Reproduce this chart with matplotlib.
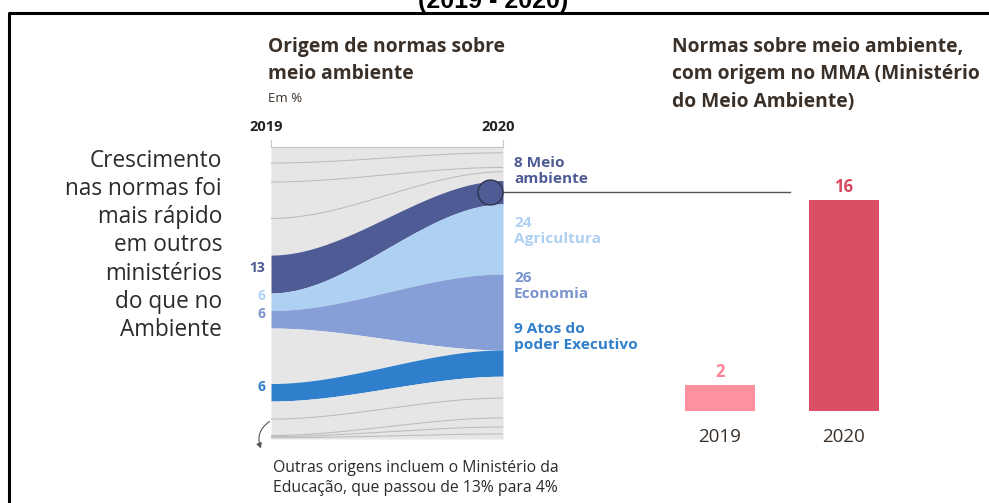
import numpy as np
import matplotlib.pyplot as plt
from matplotlib.lines import Line2D
from matplotlib.patches import FancyArrowPatch
from matplotlib.transforms import offset_copy

W, H = 989, 503

# stream chart: shares (%) of each origin, stacked from the top
years = [2019, 2020]
meio = [13, 8]
agri = [6, 24]
econ = [6, 26]
atos = [6, 9]
outros_topo = [[5.5, 2], [6.5, 5], [12.5, 1.5], [12.5, 3]]
outros_meio = [19, 0]
outros_base = [[6.2, 7.5], [5.6, 6.8], [0.4, 3.1], [0.4, 2.4], [0.4, 1.7]]

# bar chart: MMA norms
bar_years = ["2019", "2020"]
bar_vals = [2, 16]

C_MEIO = "#4e5b94"
C_AGRI = "#aed0f2"
C_ECON = "#869fd6"
C_ATOS = "#2f7fcc"
C_GRAY = "#e6e6e6"
C_LINE = "#bdbdbd"
C_TITLE = "#3a3028"
BODY = ["Open Sans", "DejaVu Sans"]


def fx(px):
    return px / W


def fy(py):
    return 1 - py / H


fig = plt.figure(figsize=(W / 100, H / 100), dpi=100)

# frame and header
fig.add_artist(Line2D([fx(8.5), fx(8.5), fx(W)], [0, fy(13), fy(13)],
                      color="black", lw=2.2))
fig.text(fx(493), fy(8), "(2019 - 2020)", ha="center", va="baseline",
         fontsize=18, fontweight="bold", family="Liberation Sans")

# ---- stream chart ----
ax = fig.add_axes([fx(271), fy(439), fx(503) - fx(271), fy(147) - fy(439)])
t = np.linspace(0, 1, 300)
s = 3 * t**2 - 2 * t**3
x = years[0] + (years[1] - years[0]) * t

bands = ([(v, C_GRAY) for v in outros_topo] + [(meio, C_MEIO), (agri, C_AGRI),
         (econ, C_ECON), (outros_meio, C_GRAY), (atos, C_ATOS)]
         + [(v, C_GRAY) for v in outros_base])

top = np.zeros_like(t)
edges = []
for vals, col in bands:
    h = vals[0] + (vals[1] - vals[0]) * s
    ax.fill_between(x, top, top + h, color=col, lw=0)
    edges.append((top.copy(), col))
    top = top + h

# thin separators inside the grey "other origins"
prev = None
for (edge, col) in edges:
    if col == C_GRAY and prev == C_GRAY:
        ax.plot(x, edge, color=C_LINE, lw=0.8)
    prev = col

ax.set_xlim(years[0], years[1])
ax.set_ylim(top[-1], 0)
ax.axis("off")

cum_topo = [sum(v[i] for v in outros_topo) for i in range(2)]
meio_mid = [cum_topo[i] + meio[i] / 2 for i in range(2)]

# circle marking the environment ministry in 2020, with leader to the bars
circ_tr = offset_copy(ax.transData, fig=fig, x=-9.5, y=0, units="points")
ax.plot([years[1]], [meio_mid[1]], "o", ms=18, color=C_MEIO, mec="#2a2f45",
        mew=0.9, transform=circ_tr, clip_on=False, zorder=5)
ax.plot([years[1], years[1] + 287 / 232], [meio_mid[1]] * 2, color="#555555",
        lw=1, clip_on=False, zorder=4)

# left values (2019)
left_labels = [(meio, cum_topo[0] + meio[0] / 2, C_MEIO),
               (agri, cum_topo[0] + meio[0] + agri[0] / 2, C_AGRI),
               (econ, cum_topo[0] + meio[0] + agri[0] + econ[0] / 2, "#7a93cc"),
               (atos, cum_topo[0] + meio[0] + agri[0] + econ[0] + outros_meio[0] + atos[0] / 2, C_ATOS)]
lab_tr = offset_copy(ax.transData, fig=fig, x=-4, y=4, units="points")
for vals, yc, col in left_labels:
    ax.text(years[0], yc, f"{vals[0]}", ha="right", va="center", color=col,
            fontsize=10, fontweight="bold", family=BODY, transform=lab_tr)

# bracket above the stream
fig.add_artist(Line2D([fx(271), fx(271), fx(503), fx(503)],
                      [fy(140), fy(147), fy(147), fy(140)], color="#c8c8c8", lw=0.9))

# right labels (2020)
right_labels = [(f"{meio[1]} Meio\nambiente", 171, C_MEIO),
                (f"{agri[1]}\nAgricultura", 231, C_AGRI),
                (f"{econ[1]}\nEconomia", 286, "#7a93cc"),
                (f"{atos[1]} Atos do\npoder Executivo", 337, C_ATOS)]
for txt, py, col in right_labels:
    fig.text(fx(514), fy(py), txt, ha="left", va="center", color=col,
             fontsize=11.1, fontweight="bold", family=BODY, linespacing=1.2)

fig.text(fx(268), fy(37), "Origem de normas sobre\nmeio ambiente", ha="left",
         va="top", fontsize=13.9, fontweight="bold", color=C_TITLE,
         family=BODY, linespacing=1.5)
fig.text(fx(268), fy(98), "Em %", ha="left", va="center", fontsize=9.5,
         color=C_TITLE, family=BODY)
fig.text(fx(266), fy(127), "2019", ha="center", va="center", fontsize=10.5,
         fontweight="bold", color="#222222", family=BODY)
fig.text(fx(498), fy(127), "2020", ha="center", va="center", fontsize=10.5,
         fontweight="bold", color="#222222", family=BODY)

fig.text(fx(222), fy(149), "Crescimento\nnas normas foi\nmais rápido\nem outros\n"
         "ministérios\ndo que no\nAmbiente", ha="right", va="top",
         fontsize=16.3, color="#2b2b2b", family=BODY, linespacing=1.23)

# footnote with curved pointer
fig.add_artist(FancyArrowPatch(
    (fx(272), fy(420)), (fx(262), fy(451)), transform=fig.transFigure,
    connectionstyle="arc3,rad=0.45", arrowstyle="-|>,head_length=3,head_width=1.6",
    color="#555555", lw=0.8))
fig.text(fx(273), fy(478), "Outras origens incluem o Ministério da\n"
         "Educação, que passou de 13% para 4%", ha="left", va="center",
         fontsize=11.3, color="#2b2b2b", family=BODY, linespacing=1.25)

# ---- bar chart ----
bx = fig.add_axes([fx(650), fy(411), fx(914) - fx(650), fy(147) - fy(411)])
bx.patch.set_visible(False)
pos = np.arange(len(bar_vals))
bar_cols = ["#ff909f", "#dc4e66"]
label_cols = ["#ff8296", "#d94660"]
bx.bar(pos, bar_vals, width=70 / 124, color=bar_cols)
for p, v, c in zip(pos, bar_vals, label_cols):
    bx.annotate(f"{v}", (p, v), xytext=(0, 2.5), textcoords="offset points",
                ha="center", va="bottom", color=c, fontsize=12,
                fontweight="bold", family=BODY)
bx.set_xlim(-0.565, 1.565)
bx.set_ylim(0, 20)
bx.set_xticks(pos, bar_years, fontsize=13.5, color="#3a3028", family=BODY)
bx.tick_params(axis="x", length=0, pad=12)
bx.set_yticks([])
for sp in bx.spines.values():
    sp.set_visible(False)

fig.text(fx(672), fy(37), "Normas sobre meio ambiente,\ncom origem no MMA (Ministério\n"
         "do Meio Ambiente)", ha="left", va="top", fontsize=13.9,
         fontweight="bold", color=C_TITLE, family=BODY, linespacing=1.5)

fig.savefig("out.png", dpi=100)
